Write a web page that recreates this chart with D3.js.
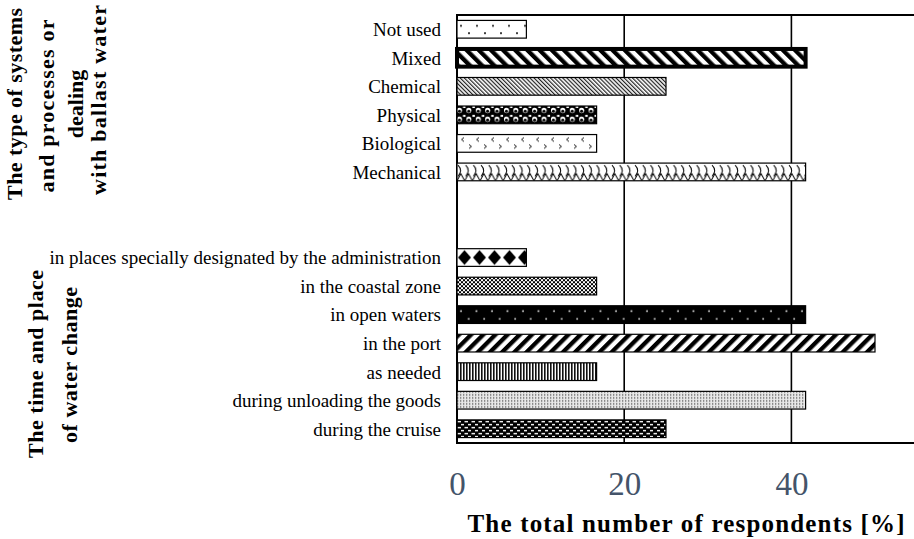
<!DOCTYPE html>
<html>
<head>
<meta charset="utf-8">
<script src="https://cdn.jsdelivr.net/npm/d3@7"></script>
<style>
  body { margin: 0; background: #fff; }
  svg { display: block; }
  .cat { font-family: "Liberation Serif", "Times New Roman", serif; font-size: 19px; fill: #000; }
  .grp { font-family: "Liberation Serif", "Times New Roman", serif; font-size: 22px; font-weight: bold; fill: #000; }
</style>
</head>
<body>
<script>
let w = 914;
let h = 539;

// data (percent of respondents)
var systemLabels = ["Not used", "Mixed", "Chemical", "Physical", "Biological", "Mechanical"];
var systemValues = [8.3, 41.7, 25, 16.7, 16.7, 41.7];
var systemFills = ["dots", "wideDown", "narrowDown", "sphere", "divot", "shingle"];

var placeLabels = ["in places specially designated by the administration", "in the coastal zone",
    "in open waters", "in the port", "as needed", "during unloading the goods", "during the cruise"];
var placeValues = [8.3, 16.7, 41.7, 50, 16.7, 41.7, 25];
var placeFills = ["diamond", "checker", "darkDots", "wideUp", "vertical", "grid", "dashes"];

var xTicks = [0, 20, 40];
var gapRows = ["gap1", "gap2"];

var rows = [];
systemLabels.forEach(function(d, i) {
    rows.push({key: d, label: d, value: systemValues[i], fill: systemFills[i]});
});
gapRows.forEach(function(g) { rows.push({key: g, label: "", value: null}); });
placeLabels.forEach(function(d, i) {
    rows.push({key: d, label: d, value: placeValues[i], fill: placeFills[i]});
});

let plotLeft = 457, plotTop = 15, plotBottom = 443;

let svg = d3.select("body").append("svg").attr("width", w).attr("height", h);

let xScale = d3.scaleLinear().domain([0, 60]).range([plotLeft, plotLeft + 60 * 8.36]);
let yScale = d3.scaleBand()
    .domain(rows.map(function(d) { return d.key; }))
    .range([plotTop, plotBottom])
    .paddingInner(0.38)
    .paddingOuter(0.19);

// fill patterns, one per bar, anchored at the bar's corner
let defs = svg.append("defs");
function makePattern(id, row, pw, ph, draw, rot) {
    let p = defs.append("pattern")
        .attr("id", id)
        .attr("patternUnits", "userSpaceOnUse")
        .attr("width", pw)
        .attr("height", ph);
    if (rot) {
        p.attr("patternTransform", "rotate(" + rot + ")");
    } else {
        p.attr("x", xScale(0)).attr("y", yScale(row.key));
    }
    draw(p);
}

let bh = yScale.bandwidth();

rows.filter(function(d) { return d.value !== null; }).forEach(function(r) {
    let id = "pat-" + r.fill;
    switch (r.fill) {
        case "dots":
            makePattern(id, r, 16, bh, function(p) {
                p.append("rect").attr("width", 16).attr("height", bh).attr("fill", "#fff");
                p.append("circle").attr("cx", 4).attr("cy", bh * 0.3).attr("r", 1).attr("fill", "#000");
                p.append("circle").attr("cx", 12).attr("cy", bh * 0.72).attr("r", 1).attr("fill", "#000");
            });
            break;
        case "wideDown":
            makePattern(id, r, 8.6, 10, function(p) {
                p.append("rect").attr("width", 8.6).attr("height", 10).attr("fill", "#fff");
                p.append("rect").attr("width", 4.3).attr("height", 10).attr("fill", "#000");
            }, -45);
            break;
        case "wideUp":
            makePattern(id, r, 8.6, 10, function(p) {
                p.append("rect").attr("width", 8.6).attr("height", 10).attr("fill", "#fff");
                p.append("rect").attr("width", 4.3).attr("height", 10).attr("fill", "#000");
            }, 45);
            break;
        case "narrowDown":
            makePattern(id, r, 2.9, 4, function(p) {
                p.append("rect").attr("width", 2.9).attr("height", 4).attr("fill", "#fff");
                p.append("rect").attr("width", 1.2).attr("height", 4).attr("fill", "#222");
            }, -45);
            break;
        case "sphere":
            // black ground with rows of white blobs, dark dots inside
            makePattern(id, r, 9.4, bh / 2, function(p) {
                let hh = bh / 2;
                p.append("rect").attr("width", 9.4).attr("height", hh).attr("fill", "#000");
                p.append("circle").attr("cx", 2.4).attr("cy", hh / 2).attr("r", 2.6).attr("fill", "#fff");
                p.append("circle").attr("cx", 2.4).attr("cy", hh / 2 + 0.8).attr("r", 1.5).attr("fill", "#000");
                p.append("rect").attr("x", 6).attr("y", 0).attr("width", 2.5).attr("height", 2).attr("fill", "#fff");
            });
            break;
        case "divot":
            makePattern(id, r, 15, bh, function(p) {
                p.append("rect").attr("width", 15).attr("height", bh).attr("fill", "#fff");
                p.append("path").attr("d", "M7,3 L4.5,5 L7,7").attr("fill", "none").attr("stroke", "#000").attr("stroke-width", 0.9);
                p.append("path").attr("d", "M12,10 L14.5,12 L12,14").attr("fill", "none").attr("stroke", "#000").attr("stroke-width", 0.9);
            });
            break;
        case "shingle":
            makePattern(id, r, 7.7, bh, function(p) {
                p.append("rect").attr("width", 7.7).attr("height", bh).attr("fill", "#fff");
                p.append("path").attr("d", "M1,2 Q6," + (bh * 0.4) + " 1," + (bh * 0.75))
                    .attr("fill", "none").attr("stroke", "#000").attr("stroke-width", 1);
                p.append("path").attr("d", "M0," + bh + " L3.8," + (bh * 0.6) + " L7.7," + bh)
                    .attr("fill", "none").attr("stroke", "#000").attr("stroke-width", 1);
            });
            break;
        case "diamond":
            makePattern(id, r, 15, bh, function(p) {
                p.append("rect").attr("width", 15).attr("height", bh).attr("fill", "#fff");
                p.append("polygon")
                    .attr("points", [[7.5, 1.5], [14, bh / 2], [7.5, bh - 1.5], [1, bh / 2]].join(" "))
                    .attr("fill", "#000");
            });
            break;
        case "checker":
            makePattern(id, r, 4, 4, function(p) {
                p.append("rect").attr("width", 4).attr("height", 4).attr("fill", "#fff");
                p.append("rect").attr("width", 2).attr("height", 2).attr("fill", "#000");
                p.append("rect").attr("x", 2).attr("y", 2).attr("width", 2).attr("height", 2).attr("fill", "#000");
            });
            break;
        case "darkDots":
            makePattern(id, r, 15.5, bh, function(p) {
                p.append("rect").attr("width", 15.5).attr("height", bh).attr("fill", "#000");
                p.append("circle").attr("cx", 4).attr("cy", bh * 0.3).attr("r", 0.9).attr("fill", "#fff");
                p.append("circle").attr("cx", 11.7).attr("cy", bh * 0.74).attr("r", 0.9).attr("fill", "#fff");
            });
            break;
        case "vertical":
            makePattern(id, r, 3, 4, function(p) {
                p.append("rect").attr("width", 3).attr("height", 4).attr("fill", "#fff");
                p.append("rect").attr("width", 1.6).attr("height", 4).attr("fill", "#111");
            });
            break;
        case "grid":
            makePattern(id, r, 3, 3, function(p) {
                p.append("rect").attr("width", 3).attr("height", 3).attr("fill", "#e8e8e8");
                p.append("rect").attr("width", 1.3).attr("height", 1.3).attr("fill", "#555");
            });
            break;
        case "dashes":
            makePattern(id, r, 7, 6, function(p) {
                p.append("rect").attr("width", 7).attr("height", 6).attr("fill", "#000");
                p.append("rect").attr("x", 0.5).attr("y", 1).attr("width", 3.5).attr("height", 1.4).attr("fill", "#fff");
                p.append("rect").attr("x", 4).attr("y", 4).attr("width", 3.5).attr("height", 1.4).attr("fill", "#fff");
            });
            break;
    }
});

// vertical grid lines
svg.selectAll("line.grid")
    .data(xTicks.filter(function(t) { return t > 0; }))
    .enter()
    .append("line")
    .attr("class", "grid")
    .attr("x1", function(d) { return xScale(d); })
    .attr("x2", function(d) { return xScale(d); })
    .attr("y1", plotTop)
    .attr("y2", plotBottom)
    .attr("stroke", "#000")
    .attr("stroke-width", 1.6);

// plot frame (top, bottom, left)
svg.append("line").attr("x1", plotLeft).attr("x2", w).attr("y1", plotTop).attr("y2", plotTop)
    .attr("stroke", "#000").attr("stroke-width", 2);
svg.append("line").attr("x1", plotLeft).attr("x2", w).attr("y1", plotBottom).attr("y2", plotBottom)
    .attr("stroke", "#000").attr("stroke-width", 2);
svg.append("line").attr("x1", plotLeft).attr("x2", plotLeft).attr("y1", plotTop - 1).attr("y2", plotBottom + 1)
    .attr("stroke", "#000").attr("stroke-width", 2);

// bars
svg.selectAll("rect.bar")
    .data(rows.filter(function(d) { return d.value !== null; }))
    .enter()
    .append("rect")
    .attr("class", "bar")
    .attr("x", xScale(0))
    .attr("y", function(d) { return yScale(d.key); })
    .attr("width", function(d) { return xScale(d.value) - xScale(0); })
    .attr("height", bh)
    .attr("fill", function(d) { return "url(#pat-" + d.fill + ")"; })
    .attr("stroke", "#000")
    .attr("stroke-width", function(d) { return d.fill === "wideDown" ? 4 : 1.2; });

// category labels
svg.selectAll("text.cat")
    .data(rows.filter(function(d) { return d.label !== ""; }))
    .enter()
    .append("text")
    .attr("class", "cat")
    .attr("x", 441)
    .attr("y", function(d) { return yScale(d.key) + bh / 2; })
    .attr("dy", "0.36em")
    .attr("text-anchor", "end")
    .text(function(d) { return d.label; });

// x axis tick labels
let xAxis = d3.axisBottom(xScale)
    .tickValues(xTicks)
    .tickSize(0)
    .tickPadding(29);

let gx = svg.append("g")
    .attr("transform", "translate(0," + plotBottom + ")")
    .call(xAxis);
gx.select(".domain").remove();
gx.selectAll("text")
    .style("font-family", "'Liberation Serif', 'Times New Roman', serif")
    .style("font-size", "33px")
    .attr("fill", "#44546A");

// x axis title
svg.append("text")
    .attr("x", 686)
    .attr("y", 532)
    .attr("text-anchor", "middle")
    .attr("textLength", 437)
    .attr("lengthAdjust", "spacing")
    .style("font-family", "'Liberation Serif', 'Times New Roman', serif")
    .style("font-size", "25px")
    .style("font-weight", "bold")
    .text("The total number of respondents [%]");

// group titles, rotated
var groupTitles = [
    {text: "The type of systems", x: 22, y: 104, len: 192},
    {text: "and processes or", x: 54, y: 106, len: 173},
    {text: "dealing", x: 83, y: 104, len: null},
    {text: "with ballast water", x: 106, y: 100, len: 190},
    {text: "The time and place", x: 43, y: 364, len: 188},
    {text: "of water change", x: 77, y: 365, len: 156}
];
svg.selectAll("text.grp")
    .data(groupTitles)
    .enter()
    .append("text")
    .attr("class", "grp")
    .attr("transform", function(d) { return "translate(" + d.x + "," + d.y + ") rotate(-90)"; })
    .attr("text-anchor", "middle")
    .attr("textLength", function(d) { return d.len; })
    .attr("lengthAdjust", "spacing")
    .text(function(d) { return d.text; });
</script>
</body>
</html>
